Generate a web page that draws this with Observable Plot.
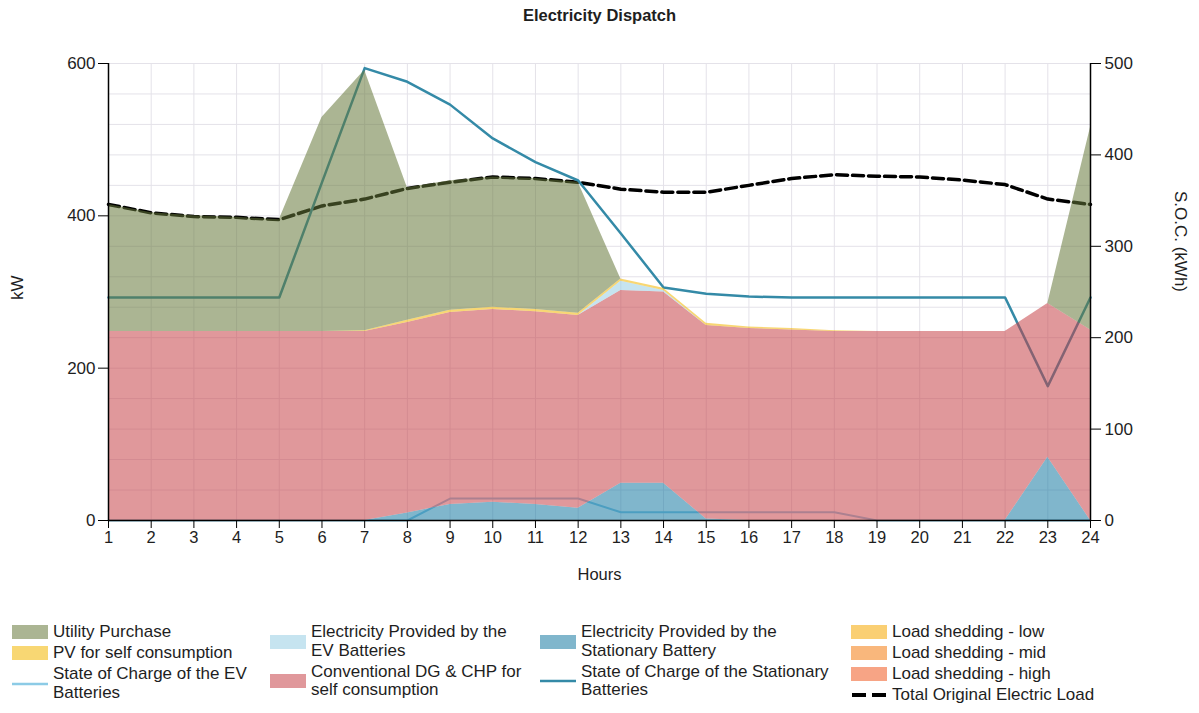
<!DOCTYPE html>
<html><head><meta charset="utf-8">
<script src="https://cdn.jsdelivr.net/npm/d3@7"></script>
<script src="https://cdn.jsdelivr.net/npm/@observablehq/plot@0.6"></script>
<style>
body{margin:0;background:#fff;font-family:"Liberation Sans",Arial,sans-serif;color:#1e1e1e;}
#wrap{position:relative;width:1199px;height:713px;overflow:hidden;}
#title{position:absolute;left:0;top:0;width:1199px;height:30px;line-height:30px;text-align:center;font-weight:bold;font-size:16.5px;}
#chart{position:absolute;left:0;top:30px;}
#legend{position:absolute;top:623px;left:0;width:1199px;}
.col{position:absolute;top:0;display:flex;flex-direction:column;gap:2.5px;}
.item{display:flex;align-items:center;font-size:17px;line-height:18.5px;white-space:pre-line;}
.sw{width:36px;height:14px;margin-right:5px;flex:none;display:block}
</style></head>
<body><div id="wrap"><div id="title">Electricity Dispatch</div><div id="chart"></div><div id="legend"></div></div>
<script>
const hours = [1,2,3,4,5,6,7,8,9,10,11,12,13,14,15,16,17,18,19,20,21,22,23,24];
// stacked series (kW), bottom to top
const statProvided = [0,0,0,0,0,0,0,10,21,24,21,16,49,49,2,0,0,0,0,0,0,0,83,0];
const dgChp       = [248,248,248,248,248,248,248,250,252,253,253,253,253,251,254,252,250,248,248,248,248,248,202,250];
const evProvided  = [0,0,0,0,0,0,0,0,0,0,0,0,12,2,0,0,0,0,0,0,0,0,0,0];
const pvSelf      = [0,0,0,0,0,0,1,3,3,3,3,3,3,3,3,2,2,1,0,0,0,0,0,0];
const utility     = [167,156,152,150,147,281,342,174,170,171,172,172,0,0,0,0,0,0,0,0,0,0,0,266];
const shedLow     = [0,0,0,0,0,0,0,0,0,0,0,0,0,0,0,0,0,0,0,0,0,0,0,0];
const shedMid     = [0,0,0,0,0,0,0,0,0,0,0,0,0,0,0,0,0,0,0,0,0,0,0,0];
const shedHigh    = [0,0,0,0,0,0,0,0,0,0,0,0,0,0,0,0,0,0,0,0,0,0,0,0];
// lines
const totalLoad = [415,404,399,398,395,413,422,436,444,451,449,444,435,431,431,440,449,454,452,451,447,441,422,415]; // kW
const socStat   = [244,244,244,244,244,370,495,480,455,418,392,372,314,255,248,245,244,244,244,244,244,244,147,244]; // kWh
const socEV     = [0,0,0,0,0,0,0,0,24,24,24,24,9,9,9,9,9,9,0,0,0,0,0,0]; // kWh

const kwTicks = [0,200,400,600];
const socTicks = [0,100,200,300,400,500];

const seriesNames = ["Electricity Provided by the Stationary Battery","Conventional DG & CHP for self consumption","Electricity Provided by the EV Batteries","PV for self consumption","Load shedding - low","Load shedding - mid","Load shedding - high","Utility Purchase"];
const seriesValues = [statProvided, dgChp, evProvided, pvSelf, shedLow, shedMid, shedHigh, utility];
const seriesColors = ["#187aa2","#c64349","#97cee4","#f2b600","#f69200","#f25b00","#ed2500","#66783a"];
const areaAlpha = 0.55;

const rows = [];
seriesNames.forEach((s,i)=>hours.forEach((h,j)=>rows.push({hour:h, series:s, value:seriesValues[i][j]})));
const lineRows = hours.map((h,j)=>({hour:h, load:totalLoad[j], socStat:socStat[j], socEV:socEV[j]}));
const k = 600/500; // right axis (kWh) mapped onto left scale (kW)

const chart = Plot.plot({
  width:1199, height:560, marginTop:33, marginBottom:70, marginLeft:108, marginRight:109,
  x:{domain:[1,24]}, y:{domain:[0,600]},
  color:{domain:seriesNames, range:seriesColors},
  style:{fontFamily:'"Liberation Sans",Arial,sans-serif', fontSize:"16.5px", color:"#1e1e1e", background:"white", overflow:"visible"},
  marks:[
    Plot.gridX(hours, {stroke:"#e4e2e9", strokeOpacity:1}),
    Plot.gridY(d3.range(0,601,40), {stroke:"#e4e2e9", strokeOpacity:1}),
    Plot.lineY(lineRows, {x:"hour", y:"load", stroke:"black", strokeWidth:3.5, strokeDasharray:"11,5"}),
    Plot.lineY(lineRows, {x:"hour", y:d=>d.socEV*k, stroke:"#8ccbe6", strokeWidth:2}),
    Plot.lineY(lineRows, {x:"hour", y:d=>d.socStat*k, stroke:"#348aa7", strokeWidth:2.5}),
    Plot.areaY(rows, {x:"hour", y:"value", z:"series", fill:"series", order:seriesNames, fillOpacity:areaAlpha}),
    Plot.ruleX([1], {stroke:"black", strokeWidth:1.5}),
    Plot.ruleX([24], {stroke:"black", strokeWidth:1.5}),
    Plot.ruleY([0], {stroke:"black", strokeWidth:1.5}),
    Plot.axisX({ticks:hours, tickSize:8, tickPadding:3, label:null, fontSize:16.5, stroke:"black"}),
    Plot.axisY({ticks:kwTicks, tickSize:10, tickPadding:3, label:null, fontSize:17, stroke:"black"}),
    Plot.axisY({anchor:"right", ticks:socTicks.map(v=>v*k), tickFormat:d=>Math.round(d/k), tickSize:10, tickPadding:4, label:null, fontSize:17, stroke:"black"}),
    Plot.text(["kW"], {text:d=>d, frameAnchor:"left", dx:-91, dy:8, rotate:-90, fontSize:17}),
    Plot.text(["S.O.C. (kWh)"], {text:d=>d, frameAnchor:"right", dx:90, dy:0, rotate:90, fontSize:17}),
    Plot.text(["Hours"], {text:d=>d, frameAnchor:"bottom", dy:59, fontSize:16.5})
  ]
});
document.getElementById("chart").appendChild(chart);

// legend
const legendCols = [
  [["Utility Purchase","fill","#66783a"],["PV for self consumption","fill","#f2b600"],["State of Charge of the EV\nBatteries","line","#8ccbe6"]],
  [["Electricity Provided by the\nEV Batteries","fill","#97cee4"],["Conventional DG & CHP for\nself consumption","fill","#c64349"]],
  [["Electricity Provided by the\nStationary Battery","fill","#187aa2"],["State of Charge of the Stationary\nBatteries","line","#348aa7"]],
  [["Load shedding - low","fill","#f6a800"],["Load shedding - mid","fill","#f47c10"],["Load shedding - high","fill","#f05a20"],["Total Original Electric Load","dash","black"]]
];
const colLeft = [12,270,540,851];
const leg = document.getElementById("legend");
legendCols.forEach((col,ci)=>{
  const c = document.createElement("div"); c.className="col"; c.style.left = colLeft[ci]+"px";
  col.forEach(([label,type,color])=>{
    const it = document.createElement("div"); it.className="item";
    let sw;
    if(type==="fill") sw = `<svg class="sw" width="36" height="14"><rect width="36" height="14" fill="${color}" fill-opacity="${areaAlpha}"/></svg>`;
    else if(type==="line") sw = `<svg class="sw" width="36" height="14"><line x1="0" x2="36" y1="7" y2="7" stroke="${color}" stroke-width="2.5"/></svg>`;
    else sw = `<svg class="sw" width="36" height="14"><line x1="1" x2="35" y1="7" y2="7" stroke="${color}" stroke-width="4" stroke-dasharray="14,6"/></svg>`;
    it.innerHTML = sw + `<span></span>`;
    it.querySelector("span").textContent = label;
    c.appendChild(it);
  });
  leg.appendChild(c);
});
</script></body></html>
